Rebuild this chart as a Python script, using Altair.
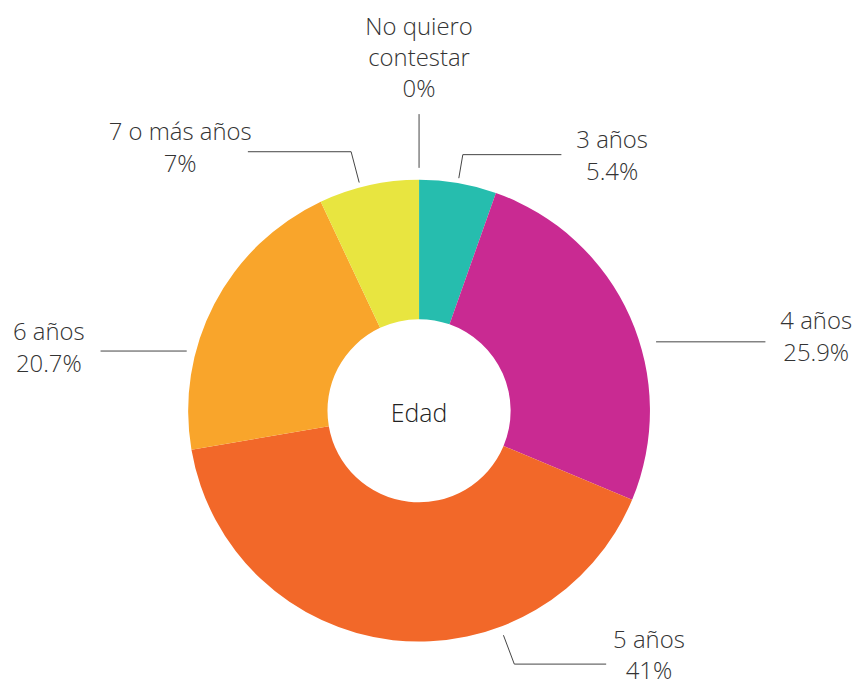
import altair as alt
import pandas as pd
import numpy as np

# ---- data ----
categories = ["3 años", "4 años", "5 años", "6 años", "7 o más años", "No quiero contestar"]
values = [5.4, 25.9, 41, 20.7, 7, 0]
label_names = [["3 años"], ["4 años"], ["5 años"], ["6 años"], ["7 o más años"], ["No quiero", "contestar"]]
colors = ["#26BDAE", "#C92A92", "#F26829", "#F9A52B", "#E8E540", "#BBBBBB"]
center_title = "Edad"

# ---- annotation layout (polar leader anchors, in px relative to donut centre) ----
leader_angle = [9.7, 73.8, 159.4, 284.4, 345.3, 0.0]
leader_r0 = [237, 248, 241, 241, 237, 244]
leader_r1 = [261, 248, 272, 241, 269, 298]
leader_end_x = [143, 348, 188, -320, -172, None]
label_x = [194, 399, 231, -372, -240, 0]
label_y = [271, 89, -231, 78, 279, 384]  # first text line
LINE_H = [32, 32, 32, 32, 32, 31]

W, H = 845, 670
CX, CY = 413, 403  # donut centre inside the view
R_OUT, R_IN = 232, 92
FONT = "Open Sans"

df = pd.DataFrame({
    "cat": categories,
    "value": values,
    "idx": list(range(len(categories))),
})

text_rows = []
for c, names, v, lx, ly, lh in zip(categories, label_names, values, label_x, label_y, LINE_H):
    parts = names + [f"{v:g}%"]
    for i, p in enumerate(parts):
        text_rows.append({"cat": c, "t": p, "x": lx, "y": ly - i * lh})
text_df = pd.DataFrame(text_rows)

rows = []
for c, a, r0, r1, ex in zip(categories, leader_angle, leader_r0, leader_r1, leader_end_x):
    t = np.radians(a)
    x0, y0 = r0 * np.sin(t), r0 * np.cos(t)
    x1, y1 = r1 * np.sin(t), r1 * np.cos(t)
    rows.append({"cat": c, "o": 0, "x": x0, "y": y0})
    rows.append({"cat": c, "o": 1, "x": x1, "y": y1})
    if ex is not None:
        rows.append({"cat": c, "o": 2, "x": ex, "y": y1})
lines_df = pd.DataFrame(rows)

xs = alt.Scale(domain=[-CX, W - CX], nice=False, zero=False)
ys = alt.Scale(domain=[CY - H, CY], nice=False, zero=False)

arcs = alt.Chart(df).mark_arc(innerRadius=R_IN, outerRadius=R_OUT, strokeWidth=0).encode(
    theta=alt.Theta("value:Q", stack=True),
    color=alt.Color("cat:N", scale=alt.Scale(domain=categories, range=colors), legend=None),
    order=alt.Order("idx:Q"),
    x=alt.value(CX),
    y=alt.value(CY),
)

lines = alt.Chart(lines_df).mark_line(color="#444444", strokeWidth=1).encode(
    x=alt.X("x:Q", scale=xs, axis=None),
    y=alt.Y("y:Q", scale=ys, axis=None),
    detail="cat:N",
    order="o:Q",
)

labels = alt.Chart(text_df).mark_text(
    font=FONT, fontSize=24, fontWeight=300, color="#333333",
    align="center", baseline="middle",
).encode(
    x=alt.X("x:Q", scale=xs, axis=None),
    y=alt.Y("y:Q", scale=ys, axis=None),
    text="t:N",
)

center = alt.Chart(pd.DataFrame({"t": [center_title], "x": [0], "y": [-3]})).mark_text(
    font=FONT, fontSize=25, fontWeight=300, color="#222222", align="center", baseline="middle",
).encode(
    x=alt.X("x:Q", scale=xs, axis=None),
    y=alt.Y("y:Q", scale=ys, axis=None),
    text="t:N",
)

chart = alt.layer(arcs, lines, labels, center).properties(
    width=W, height=H, padding=0, background="white"
).configure_view(stroke=None)

chart.save("out.html", embed_options={"renderer": "svg", "actions": False})
